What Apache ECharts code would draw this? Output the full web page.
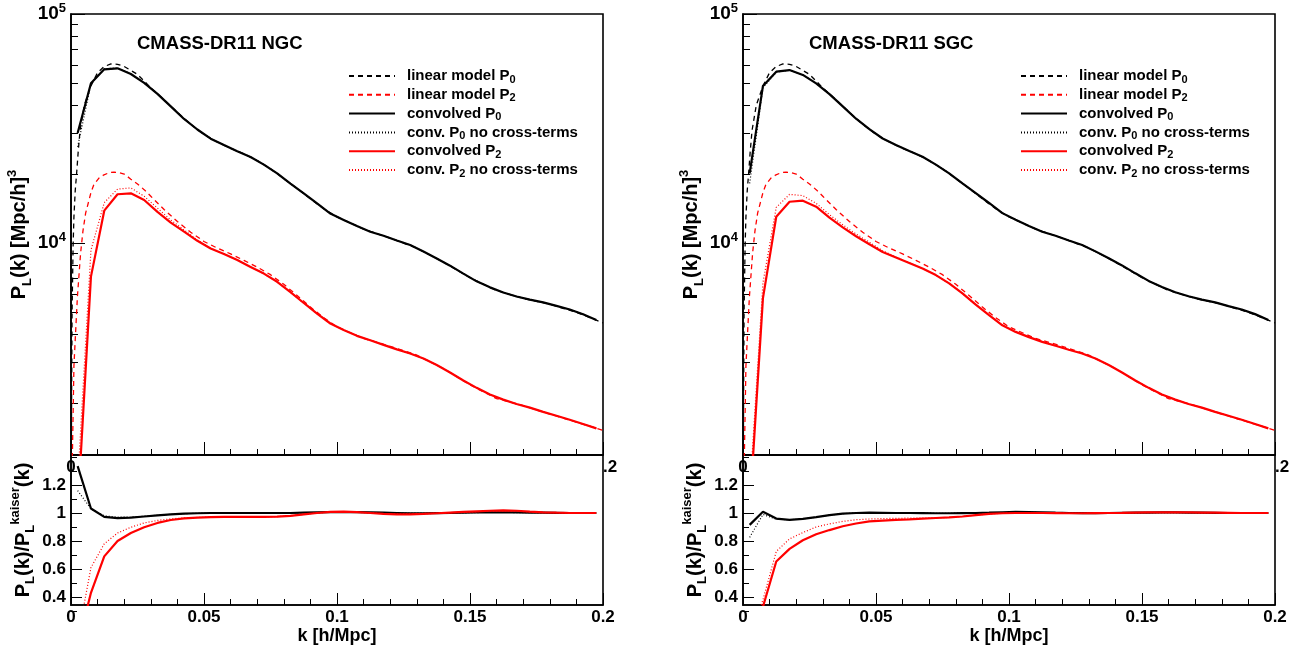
<!DOCTYPE html>
<html>
<head>
<meta charset="utf-8">
<title>CMASS-DR11 convolved power spectra</title>
<script src="https://cdn.jsdelivr.net/npm/echarts@6/dist/echarts.min.js"></script>
<style>
  html, body { margin: 0; padding: 0; background: #fff; }
  #chart { width: 1306px; height: 651px; }
</style>
</head>
<body>
<div id="chart"></div>
<script>
// k bin centres of the convolved spectra
var kGrid = [0.0025, 0.0075, 0.0125, 0.0175, 0.0225, 0.0275, 0.0325, 0.0375, 0.0425, 0.0475,
             0.0525, 0.0575, 0.0625, 0.0675, 0.0725, 0.0775, 0.0825, 0.0875, 0.0925, 0.0975,
             0.1025, 0.1075, 0.1125, 0.1175, 0.1225, 0.1275, 0.1325, 0.1375, 0.1425, 0.1475,
             0.1525, 0.1575, 0.1625, 0.1675, 0.1725, 0.1775, 0.1825, 0.1875, 0.1925, 0.1975];

// linear (kaiser) model, finely sampled
var kLinP0 = [0.0001, 0.0004, 0.0008, 0.0011, 0.0016, 0.0021, 0.0027, 0.0034, 0.005, 0.0075,
              0.01, 0.0125, 0.015, 0.0175, 0.02, 0.025, 0.03, 0.035, 0.04, 0.045, 0.05,
              0.055, 0.06, 0.065, 0.07, 0.075, 0.08, 0.085, 0.09, 0.095, 0.1,
              0.11, 0.12, 0.13, 0.14, 0.15, 0.16, 0.17, 0.18, 0.19, 0.2];
var linP0 = [1100, 5000, 9800, 13000, 17000, 20000, 25000, 31000, 40000, 48500,
             55500, 59000, 60500, 60300, 59000, 54500, 47600, 42200, 37200, 33000, 29800,
             27600, 25900, 24500, 22900, 21100, 19100, 17300, 15600, 14100, 13000,
             11500, 10500, 9500, 8250, 7050, 6200, 5730, 5400, 4980, 4480];
var kLinP2 = [0.0005, 0.0011, 0.0015, 0.0024, 0.0036, 0.0045, 0.0055, 0.0075, 0.0086, 0.0105,
              0.0124, 0.0145, 0.0162, 0.018, 0.02, 0.0225, 0.025, 0.0275, 0.03, 0.035,
              0.04, 0.045, 0.05, 0.055, 0.06, 0.065, 0.07, 0.075, 0.08, 0.085,
              0.09, 0.095, 0.1, 0.11, 0.12, 0.13, 0.14, 0.15, 0.16, 0.17,
              0.18, 0.19, 0.2];
var linP2 = [1150, 2900, 3600, 5800, 9000, 11300, 13500, 16600, 18000, 19200,
             19850, 20300, 20400, 20300, 20000, 19000, 18100, 17100, 16000, 14000,
             12400, 11150, 10150, 9500, 8960, 8400, 7850, 7270, 6600, 5900,
             5250, 4720, 4300, 3830, 3540, 3240, 2830, 2400, 2090, 1950,
             1790, 1650, 1520];

// NGC
var ngcConvP0 = [30200, 49800, 57350, 57900, 54700, 50000, 44800, 39500, 34800, 31300,
                 28550, 26770, 25160, 23750, 21990, 20120, 18150, 16450, 14890, 13450,
                 12600, 11850, 11200, 10750, 10260, 9800, 9170, 8550, 7960, 7350,
                 6800, 6400, 6080, 5840, 5660, 5500, 5310, 5120, 4880, 4610];
var ngcNoCrossP0 = [26300, 49600, 57700, 58100, 54800, 50000, 44800, 39500, 34800, 31300,
                    28550, 26770, 25160, 23750, 21990, 20120, 18150, 16450, 14890, 13450,
                    12600, 11850, 11200, 10750, 10260, 9800, 9170, 8550, 7960, 7350,
                    6800, 6400, 6080, 5840, 5660, 5500, 5310, 5120, 4880, 4610];
var ngcConvP2 = [680, 7130, 13840, 16320, 16480, 15410, 13680, 12280, 11200, 10220,
                 9460, 8950, 8420, 7860, 7350, 6770, 6100, 5470, 4920, 4450,
                 4170, 3930, 3760, 3590, 3430, 3290, 3130, 2930, 2720, 2510,
                 2330, 2180, 2070, 1980, 1910, 1830, 1760, 1690, 1620, 1550];
var ngcNoCrossP2 = [900, 9300, 15000, 17200, 17400, 16000, 14200, 12600, 11400, 10300,
                    9480, 8960, 8430, 7870, 7350, 6770, 6100, 5470, 4920, 4450,
                    4170, 3930, 3760, 3590, 3430, 3290, 3130, 2930, 2720, 2510,
                    2330, 2180, 2070, 1980, 1910, 1830, 1760, 1690, 1620, 1550];
var ngcRatioP0 = [1.335, 1.032, 0.972, 0.963, 0.967, 0.975, 0.983, 0.99, 0.995, 0.998,
                  1.0, 1.0, 1.0, 1.0, 1.0, 1.0, 1.0, 1.002, 1.004, 1.006,
                  1.007, 1.006, 1.004, 1.002, 1.0, 0.998, 0.998, 0.999, 1.0, 1.002,
                  1.004, 1.005, 1.005, 1.004, 1.003, 1.002, 1.001, 1.0, 1.0, 1.0];
var ngcRatioNoCrossP0 = [1.16, 1.03, 0.98, 0.97, 0.971, 0.977, 0.984, 0.99, 0.995, 0.998,
                         1.0, 1.0, 1.0, 1.0, 1.0, 1.0, 1.0, 1.001, 1.003, 1.004,
                         1.005, 1.004, 1.003, 1.001, 1.0, 0.999, 0.999, 0.999, 1.0, 1.001,
                         1.003, 1.004, 1.004, 1.003, 1.002, 1.001, 1.0, 1.0, 1.0, 1.0];
var ngcRatioP2 = [0.05, 0.43, 0.69, 0.80, 0.857, 0.898, 0.929, 0.95, 0.962, 0.967,
                  0.97, 0.972, 0.972, 0.972, 0.972, 0.974, 0.98, 0.99, 1.0, 1.008,
                  1.01, 1.006, 1.0, 0.994, 0.99, 0.99, 0.993, 0.998, 1.003, 1.008,
                  1.012, 1.016, 1.018, 1.016, 1.01, 1.005, 1.002, 1.0, 1.0, 1.0];
var ngcRatioNoCrossP2 = [0.1, 0.61, 0.78, 0.857, 0.898, 0.929, 0.947, 0.958, 0.965, 0.968,
                         0.971, 0.972, 0.972, 0.972, 0.972, 0.974, 0.98, 0.99, 1.0, 1.006,
                         1.008, 1.005, 1.0, 0.995, 0.992, 0.992, 0.994, 0.998, 1.002, 1.006,
                         1.01, 1.013, 1.015, 1.013, 1.008, 1.004, 1.002, 1.0, 1.0, 1.0];

// SGC
var sgcConvP0 = [20140, 48500, 55970, 56900, 54200, 49800, 44700, 39500, 34900, 31400,
                 28600, 26800, 25200, 23800, 22000, 20150, 18200, 16500, 14950, 13500,
                 12620, 11870, 11200, 10750, 10260, 9800, 9190, 8570, 7980, 7370,
                 6830, 6420, 6090, 5850, 5660, 5500, 5300, 5120, 4890, 4610];
var sgcNoCrossP0 = [18200, 47600, 55700, 56800, 54200, 49800, 44700, 39500, 34900, 31400,
                    28600, 26800, 25200, 23800, 22000, 20150, 18200, 16500, 14950, 13500,
                    12620, 11870, 11200, 10750, 10260, 9800, 9190, 8570, 7980, 7370,
                    6830, 6420, 6090, 5850, 5660, 5500, 5300, 5120, 4890, 4610];
var sgcConvP2 = [677, 5740, 13020, 15140, 15300, 14400, 12900, 11700, 10700, 9880,
                 9140, 8640, 8185, 7730, 7240, 6660, 6020, 5385, 4845, 4370,
                 4090, 3880, 3700, 3560, 3420, 3290, 3130, 2930, 2720, 2510,
                 2330, 2180, 2070, 1980, 1910, 1830, 1760, 1690, 1620, 1550];
var sgcNoCrossP2 = [800, 6700, 14300, 16300, 16100, 14900, 13300, 12000, 10950, 10080,
                    9250, 8680, 8200, 7740, 7240, 6660, 6020, 5385, 4845, 4370,
                    4090, 3880, 3700, 3560, 3420, 3290, 3130, 2930, 2720, 2510,
                    2330, 2180, 2070, 1980, 1910, 1830, 1760, 1690, 1620, 1550];
var sgcRatioP0 = [0.915, 1.009, 0.96, 0.951, 0.958, 0.97, 0.985, 0.995, 1.0, 1.002,
                  1.001, 1.0, 1.0, 0.999, 0.998, 0.998, 0.999, 1.0, 1.002, 1.005,
                  1.008, 1.007, 1.005, 1.002, 1.0, 0.999, 0.999, 1.0, 1.001, 1.002,
                  1.003, 1.004, 1.004, 1.003, 1.002, 1.001, 1.0, 1.0, 1.0, 1.0];
var sgcRatioNoCrossP0 = [0.826, 0.99, 0.955, 0.952, 0.958, 0.97, 0.985, 0.995, 1.0, 1.001,
                         1.0, 1.0, 1.0, 0.999, 0.998, 0.998, 0.999, 1.0, 1.001, 1.003,
                         1.005, 1.005, 1.003, 1.001, 1.0, 0.999, 0.999, 1.0, 1.001, 1.001,
                         1.002, 1.003, 1.003, 1.002, 1.001, 1.0, 1.0, 1.0, 1.0, 1.0];
var sgcRatioP2 = [0.05, 0.33, 0.654, 0.744, 0.805, 0.848, 0.878, 0.905, 0.925, 0.94,
                  0.946, 0.951, 0.955, 0.96, 0.964, 0.968, 0.975, 0.985, 0.993, 0.998,
                  1.0, 1.0, 1.0, 0.999, 0.998, 0.998, 0.999, 1.0, 1.001, 1.003,
                  1.004, 1.005, 1.005, 1.004, 1.003, 1.002, 1.001, 1.0, 1.0, 1.0];
var sgcRatioNoCrossP2 = [0.1, 0.38, 0.725, 0.815, 0.86, 0.9, 0.922, 0.94, 0.952, 0.957,
                         0.96, 0.962, 0.963, 0.964, 0.965, 0.968, 0.975, 0.985, 0.993, 0.998,
                         1.0, 1.0, 1.0, 0.999, 0.998, 0.998, 0.999, 1.0, 1.001, 1.003,
                         1.004, 1.005, 1.005, 1.004, 1.003, 1.002, 1.001, 1.0, 1.0, 1.0];

var names = ['linear model P0', 'linear model P2', 'convolved P0',
             'conv. P0 no cross-terms', 'convolved P2', 'conv. P2 no cross-terms'];
var logMajor = [10000, 100000];
var logMinor = [2000, 3000, 4000, 5000, 6000, 7000, 8000, 9000,
                20000, 30000, 40000, 50000, 60000, 70000, 80000, 90000];
var ratioMajor = [0.4, 0.6, 0.8, 1.0, 1.2];

var FONT = '"Liberation Sans", Arial, Helvetica, sans-serif';
var chart = echarts.init(document.getElementById('chart'));

function pairs(ks, vs) {
  return ks.map(function (k, i) { return [k, vs[i]]; });
}

var styles = {
  'linear model P0':         { color: '#000', width: 1.3, type: [5, 4] },
  'linear model P2':         { color: '#ff0000', width: 1.3, type: [5, 4] },
  'convolved P0':            { color: '#000', width: 2.2, type: 'solid' },
  'conv. P0 no cross-terms': { color: '#000', width: 1.2, type: [1, 2] },
  'convolved P2':            { color: '#ff0000', width: 2.2, type: 'solid' },
  'conv. P2 no cross-terms': { color: '#ff0000', width: 1.2, type: [1, 2] }
};

function line(name, data, xi, yi) {
  var s = styles[name];
  return {
    name: name, type: 'line', data: data, xAxisIndex: xi, yAxisIndex: yi,
    symbol: 'none', showSymbol: false, clip: true,
    lineStyle: { color: s.color, width: s.width, type: s.type },
    itemStyle: { color: s.color }
  };
}

var tickFont = { fontSize: 17, fontWeight: 'bold', fontFamily: FONT, color: '#000' };
var nameRichTop = {
  b: { fontSize: 20, fontWeight: 'bold', fontFamily: FONT, color: '#000', lineHeight: 28 },
  s: { fontSize: 13, fontWeight: 'bold', fontFamily: FONT, color: '#000', lineHeight: 13, verticalAlign: 'bottom' },
  u: { fontSize: 13, fontWeight: 'bold', fontFamily: FONT, color: '#000', lineHeight: 13, verticalAlign: 'top' }
};

// ---- main panels ----
var grids = [];
var xAxes = [];
var yAxes = [];

function addGrid(rect, framed) {
  var g = Object.assign({}, rect);
  if (framed) { g.show = true; g.borderColor = '#000'; g.borderWidth = 1.6; }
  grids.push(g);
  return grids.length - 1;
}

function mainX(gi, bottom) {
  var ax = {
    type: 'value', gridIndex: gi, position: 'bottom', min: 0, max: 0.2, interval: 0.05,
    axisLine: { show: true, onZero: false, lineStyle: { color: '#000', width: 1.6 } },
    axisTick: { show: false },
    splitLine: { show: false },
    axisLabel: Object.assign({ margin: 4 }, tickFont)
  };
  if (bottom) {
    ax.axisLabel.formatter = function (v) { return v === 0 ? '0' : String(+v.toFixed(2)); };
    ax.name = 'k [h/Mpc]';
    ax.nameLocation = 'middle';
    ax.nameGap = 20;
    ax.nameTextStyle = { fontSize: 18, fontWeight: 'bold', fontFamily: FONT, color: '#000' };
  } else {
    ax.axisLabel.formatter = function (v) {
      if (v === 0) return '0';
      if (Math.abs(v - 0.2) < 1e-9) return '{r|.2}';
      return '';
    };
    ax.axisLabel.rich = { r: Object.assign({ padding: [0, 0, 0, 14] }, tickFont) };
  }
  return ax;
}

function mainLogY(gi) {
  return {
    type: 'log', logBase: 10, gridIndex: gi, position: 'left', min: 1186, max: 100000,
    axisLine: { show: true, onZero: false, lineStyle: { color: '#000', width: 1.6 } },
    axisTick: { show: false },
    splitLine: { show: false },
    axisLabel: {
      customValues: logMajor, margin: 5,
      formatter: function (v) { return '{a|10}{e|' + Math.round(Math.log10(v)) + '}'; },
      rich: {
        a: { fontSize: 19, fontWeight: 'bold', fontFamily: FONT, color: '#000', lineHeight: 24 },
        e: { fontSize: 13, fontWeight: 'bold', fontFamily: FONT, color: '#000', lineHeight: 13, verticalAlign: 'top' }
      }
    },
    name: '{b|P}{s|L}{b|(k) [Mpc/h]}{u|3}',
    nameLocation: 'middle', nameRotate: 90, nameGap: 34,
    nameTextStyle: { rich: nameRichTop }
  };
}

function mainRatioY(gi) {
  return {
    type: 'value', gridIndex: gi, position: 'left', min: 0.343, max: 1.414,
    axisLine: { show: true, onZero: false, lineStyle: { color: '#000', width: 1.6 } },
    axisTick: { show: false },
    splitLine: { show: false },
    axisLabel: Object.assign({
      customValues: ratioMajor, margin: 5,
      formatter: function (v) { return String(+v.toFixed(1)); }
    }, tickFont),
    name: '{b|P}{s|L}{b|(k)/P}{s|L}{u|kaiser}{b|(k)}',
    nameLocation: 'middle', nameRotate: 90, nameGap: 34,
    nameTextStyle: { rich: nameRichTop }
  };
}

[71, 743].forEach(function (L) {
  var gTop = addGrid({ left: L, top: 14, width: 532, height: 441 }, true);
  var gBot = addGrid({ left: L, top: 455, width: 532, height: 150 }, true);
  xAxes[gTop] = mainX(gTop, false);
  xAxes[gBot] = mainX(gBot, true);
  yAxes[gTop] = mainLogY(gTop);
  yAxes[gBot] = mainRatioY(gBot);
});

// ---- tick marks: thin strips along each frame edge whose split lines are the ticks ----
var tickLine = { color: '#000', width: 1 };
function hidden(type, gi) {
  return { type: 'value', gridIndex: gi, show: false, min: 0, max: 1 };
}
function liner(type, gi, opts) {
  return Object.assign({
    type: type, gridIndex: gi,
    axisLine: { show: false }, axisLabel: { show: false },
    splitLine: { show: true, lineStyle: tickLine }
  }, opts);
}
function xStrip(rect, min, max, interval) {
  var gi = addGrid(rect, false);
  xAxes[gi] = liner('value', gi, { min: min, max: max, interval: interval, axisTick: { show: false } });
  yAxes[gi] = hidden('value', gi);
}
function yStrip(rect, type, min, max, interval, custom) {
  var gi = addGrid(rect, false);
  var opts = { min: min, max: max, axisTick: { show: false } };
  if (interval) opts.interval = interval;
  if (custom) opts.axisTick.customValues = custom;
  if (type === 'log') opts.logBase = 10;
  xAxes[gi] = hidden('value', gi);
  yAxes[gi] = liner(type, gi, opts);
}

[71, 743].forEach(function (L) {
  // k ticks on the upper panel (major 0.05, minor 0.01)
  xStrip({ left: L, top: 442, width: 532, height: 13 }, 0, 0.2, 0.05);
  xStrip({ left: L + 26.6, top: 449, width: 478.8, height: 6 }, 0.01, 0.19, 0.01);
  // k ticks on the ratio panel
  xStrip({ left: L, top: 593, width: 532, height: 12 }, 0, 0.2, 0.05);
  xStrip({ left: L + 26.6, top: 599, width: 478.8, height: 6 }, 0.01, 0.19, 0.01);
  // decade and sub-decade ticks of the log axis
  yStrip({ left: L, top: 14, width: 14, height: 228.98 }, 'log', 10000, 100000, null, null);
  yStrip({ left: L, top: 14, width: 7, height: 441 }, 'log', 1186, 100000, null, logMinor);
  // ratio axis ticks (major 0.2, minor 0.1)
  yStrip({ left: L, top: 484.97, width: 11, height: 112.05 }, 'value', 0.4, 1.2, 0.2, null);
  yStrip({ left: L, top: 456.96, width: 6, height: 154.07 }, 'value', 0.3, 1.4, 0.1, null);
});

function panelSeries(xTop, yTop, xBot, yBot, convP0, noCrossP0, convP2, noCrossP2, rP0, rNcP0, rP2, rNcP2) {
  return [
    line(names[0], pairs(kLinP0, linP0), xTop, yTop),
    line(names[1], pairs(kLinP2, linP2), xTop, yTop),
    line(names[2], pairs(kGrid, convP0), xTop, yTop),
    line(names[3], pairs(kGrid, noCrossP0), xTop, yTop),
    line(names[4], pairs(kGrid, convP2), xTop, yTop),
    line(names[5], pairs(kGrid, noCrossP2), xTop, yTop),
    line(names[2], pairs(kGrid, rP0), xBot, yBot),
    line(names[3], pairs(kGrid, rNcP0), xBot, yBot),
    line(names[4], pairs(kGrid, rP2), xBot, yBot),
    line(names[5], pairs(kGrid, rNcP2), xBot, yBot)
  ];
}

function legendAt(left) {
  return {
    orient: 'vertical', left: left, top: 67, padding: 0,
    itemWidth: 46, itemHeight: 14, itemGap: 0.8,
    selectedMode: false, data: names,
    itemStyle: { color: 'rgba(0,0,0,0)', borderWidth: 0, borderColor: 'rgba(0,0,0,0)' },
    formatter: function (n) { return '{g| }' + n.replace(/P([02])/, 'P{s|$1}'); },
    textStyle: {
      fontSize: 15, fontWeight: 'bold', fontFamily: FONT, color: '#000', lineHeight: 18,
      rich: {
        g: { width: 7 },
        s: { fontSize: 11, fontWeight: 'bold', fontFamily: FONT, color: '#000', lineHeight: 11, verticalAlign: 'bottom' }
      }
    }
  };
}

var titleStyle = { fontSize: 18.5, fontWeight: 'bold', fontFamily: FONT, color: '#000' };

chart.setOption({
  animation: false,
  title: [
    { text: 'CMASS-DR11 NGC', left: 137, top: 34, padding: 0, textStyle: titleStyle },
    { text: 'CMASS-DR11 SGC', left: 809, top: 34, padding: 0, textStyle: titleStyle }
  ],
  legend: [legendAt(348), legendAt(1020)],
  grid: grids,
  xAxis: xAxes,
  yAxis: yAxes,
  series: [].concat(
    panelSeries(0, 0, 1, 1, ngcConvP0, ngcNoCrossP0, ngcConvP2, ngcNoCrossP2,
                ngcRatioP0, ngcRatioNoCrossP0, ngcRatioP2, ngcRatioNoCrossP2),
    panelSeries(2, 2, 3, 3, sgcConvP0, sgcNoCrossP0, sgcConvP2, sgcNoCrossP2,
                sgcRatioP0, sgcRatioNoCrossP0, sgcRatioP2, sgcRatioNoCrossP2)
  )
});
</script>
</body>
</html>
